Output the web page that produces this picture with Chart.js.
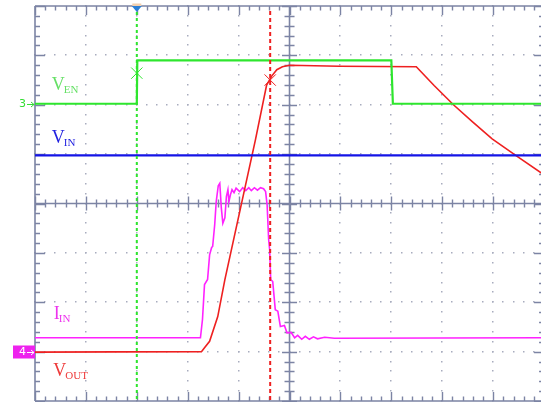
<!DOCTYPE html>
<html><head><meta charset="utf-8">
<script src="https://cdn.jsdelivr.net/npm/chart.js@4/dist/chart.umd.min.js"></script>
<style>
html,body{margin:0;padding:0;overflow:hidden;background:#fff;width:541px;height:402px}
#wrap{position:relative;width:541px;height:402px;overflow:hidden}
canvas{display:block}
</style>
</head><body><div id="wrap"><canvas id="c" width="541" height="402"></canvas></div>
<script>
// Time in screen divisions (0..10, right edge of the screen slightly cropped), signals in screen divisions (-4..4)
const visibleDivisions = 9.94;

const vEnTime  = [0, 2.0, 2.01, 7.0, 7.03, 10];
const vEnLevel = [2.02, 2.02, 2.9, 2.9, 2.02, 2.02];

const vInTime  = [0, 10];
const vInLevel = [0.976, 0.976];

const vOutTime  = [0, 3.27, 3.33, 3.43, 3.59, 3.73, 4.33, 4.55, 4.65, 4.75, 4.86, 5.0, 5.98, 7.49, 7.84, 8.22, 8.59, 8.98, 9.45, 10];
const vOutLevel = [-3.01, -3.0, -2.92, -2.79, -2.29, -1.54, 1.29, 2.40, 2.58, 2.71, 2.77, 2.80, 2.78, 2.77, 2.39, 2.0, 1.66, 1.31, 0.97, 0.58];

const iInTime  = [0, 3.25, 3.29, 3.33, 3.39, 3.43, 3.47, 3.49, 3.53, 3.56, 3.60, 3.63, 3.66, 3.69, 3.73, 3.76, 3.79, 3.81, 3.84, 3.87, 3.91, 3.95,
                  4.02, 4.08, 4.14, 4.20, 4.25, 4.31, 4.37, 4.43, 4.49, 4.53, 4.56, 4.59, 4.61, 4.63, 4.67, 4.72, 4.77, 4.82, 4.90, 4.95, 5.03,
                  5.10, 5.16, 5.24, 5.31, 5.39, 5.47, 5.55, 5.69, 5.88, 10];
const iInLevel = [-2.72, -2.72, -2.35, -1.64, -1.54, -1.04, -0.89, -0.87, -0.43, 0.04, 0.36, 0.41, -0.09, -0.40, -0.29, 0.14, 0.28, 0.04, 0.18, 0.28, 0.22, 0.31,
                  0.24, 0.32, 0.26, 0.32, 0.26, 0.32, 0.27, 0.32, 0.30, 0.24, -0.03, -0.73, -0.94, -1.54, -1.58, -2.15, -2.18, -2.49, -2.47, -2.62, -2.61,
                  -2.72, -2.67, -2.75, -2.69, -2.75, -2.70, -2.74, -2.71, -2.73, -2.72];

const cursorTime  = [2.0, 4.62];
const cursorMarkLevel = [2.64, 2.50];
const triggerTime = 2.0;

const traceLabels = [
  {main: 'V', sub: 'EN',  x: 0.33, y: 2.30,  color: '#66e066'},
  {main: 'V', sub: 'IN',  x: 0.33, y: 1.22,  color: '#2323e0'},
  {main: 'I', sub: 'IN',  x: 0.37, y: -2.34, color: '#ee33ee'},
  {main: 'V', sub: 'OUT', x: 0.36, y: -3.50, color: '#ee3a3a'}
];
const channelMarks = [
  {label: '3', level: vEnLevel[0], color: '#33dd33', boxed: false},
  {label: '4', level: vOutLevel[0], color: '#ee22ee', boxed: true}
];

const GREEN = '#2ee62e', BLUE = '#1414e6', RED = '#ee2020', MAG = '#ff22ff';
const AXIS = '#7c84a4', DOT = '#a8acbe';

function pts(t, v){ return t.map((x,i)=>({x, y: v[i]})); }

const scopeGrid = {
  id: 'scopeGrid',
  beforeDatasetsDraw(chart){
    const {ctx, chartArea: a, scales: {x, y}} = chart;
    const L = x.getPixelForValue(0), R = x.getPixelForValue(10);
    ctx.save();
    ctx.fillStyle = DOT;
    for (let i = 1; i < 10; i++) {
      if (i === 5) continue;
      const px = Math.round(x.getPixelForValue(i));
      for (let k = 0; k <= 40; k++) {
        const py = Math.round(y.getPixelForValue(-4 + k * 0.2));
        ctx.fillRect(px - 1, py - 1, 1.5, 1.5);
      }
    }
    for (let j = -3; j <= 3; j++) {
      if (j === 0) continue;
      const py = Math.round(y.getPixelForValue(j));
      for (let k = 0; k <= 50; k++) {
        const px = Math.round(x.getPixelForValue(k * 0.2));
        ctx.fillRect(px - 1, py - 1, 1.5, 1.5);
      }
    }
    ctx.strokeStyle = AXIS;
    ctx.lineWidth = 1.6;
    const cx = x.getPixelForValue(5), cy = y.getPixelForValue(0);
    ctx.beginPath();
    ctx.moveTo(L, a.top); ctx.lineTo(R, a.top);
    ctx.moveTo(L, a.bottom); ctx.lineTo(R, a.bottom);
    ctx.moveTo(L, a.top); ctx.lineTo(L, a.bottom);
    ctx.moveTo(R, a.top); ctx.lineTo(R, a.bottom);
    ctx.moveTo(L, cy); ctx.lineTo(R, cy);
    ctx.moveTo(cx, a.top); ctx.lineTo(cx, a.bottom);
    ctx.stroke();
    ctx.lineWidth = 1.4;
    ctx.beginPath();
    for (let k = 0; k <= 50; k++) {
      const major = k % 5 === 0;
      const px = Math.round(x.getPixelForValue(k * 0.2)) + 0.5;
      const t = major ? 9 : 4.5, c = major ? 7 : 4;
      ctx.moveTo(px, a.top); ctx.lineTo(px, a.top + t);
      ctx.moveTo(px, a.bottom); ctx.lineTo(px, a.bottom - t);
      ctx.moveTo(px, cy - c); ctx.lineTo(px, cy + c);
    }
    for (let k = 0; k <= 40; k++) {
      const major = k % 5 === 0;
      const py = Math.round(y.getPixelForValue(-4 + k * 0.2)) + 0.5;
      const t = major ? 10 : 5, c = major ? 7.5 : 5;
      ctx.moveTo(L, py); ctx.lineTo(L + t, py);
      ctx.moveTo(R, py); ctx.lineTo(R - t, py);
      ctx.moveTo(cx - c, py); ctx.lineTo(cx + c, py);
    }
    ctx.stroke();
    ctx.restore();
  },
  afterDatasetsDraw(chart){
    const {ctx, chartArea: a, scales: {x, y}} = chart;
    ctx.save();
    // trigger marker
    const tx = x.getPixelForValue(triggerTime);
    ctx.fillStyle = '#f2cfae';
    ctx.fillRect(tx - 4.5, a.top - 2.5, 9, 2.5);
    ctx.fillStyle = '#2a7fd6';
    ctx.beginPath();
    ctx.moveTo(tx - 5, a.top); ctx.lineTo(tx + 5, a.top); ctx.lineTo(tx, a.top + 6);
    ctx.closePath(); ctx.fill();
    // trace labels
    ctx.textBaseline = 'alphabetic';
    traceLabels.forEach(l => {
      const px = x.getPixelForValue(l.x), py = y.getPixelForValue(l.y);
      ctx.fillStyle = l.color;
      ctx.font = '18px "Liberation Serif", "Times New Roman", serif';
      ctx.fillText(l.main, px, py);
      const w = ctx.measureText(l.main).width;
      ctx.font = '11px "Liberation Serif", "Times New Roman", serif';
      ctx.fillText(l.sub, px + w - 1, py + 3);
    });
    // channel ground marks
    channelMarks.forEach(m => {
      const py = Math.round(y.getPixelForValue(m.level));
      ctx.font = '11px "DejaVu Sans", sans-serif';
      ctx.textBaseline = 'middle';
      let col = m.color;
      if (m.boxed) {
        ctx.fillStyle = m.color;
        ctx.fillRect(a.left - 22, py - 6.5, 22, 13);
        col = '#ffffff';
      }
      ctx.fillStyle = col;
      ctx.textAlign = 'left';
      ctx.fillText(m.label, a.left - 16, py + 0.5);
      ctx.strokeStyle = col; ctx.lineWidth = 1;
      ctx.beginPath();
      ctx.moveTo(a.left - 8, py + 0.5); ctx.lineTo(a.left - 1, py + 0.5);
      ctx.moveTo(a.left - 4, py - 2); ctx.lineTo(a.left - 1, py + 0.5); ctx.lineTo(a.left - 4, py + 3);
      ctx.stroke();
    });
    ctx.restore();
  }
};

new Chart(document.getElementById('c'), {
  type: 'line',
  data: {
    datasets: [
      {label: 'cursor1', data: [{x: cursorTime[0], y: 4}, {x: cursorTime[0], y: -4}], borderColor: GREEN, borderWidth: 2, borderDash: [3, 3], pointRadius: 0},
      {label: 'cursor2', data: [{x: cursorTime[1], y: 3.9}, {x: cursorTime[1], y: -4}], borderColor: RED, borderWidth: 2, borderDash: [4, 3], pointRadius: 0},
      {label: 'marks1', data: [{x: cursorTime[0], y: cursorMarkLevel[0]}], showLine: false, pointStyle: 'crossRot', pointRadius: 8, borderColor: GREEN, borderWidth: 1},
      {label: 'marks2', data: [{x: cursorTime[1], y: cursorMarkLevel[1]}], showLine: false, pointStyle: 'crossRot', pointRadius: 8, borderColor: RED, borderWidth: 1},
      {label: 'VEN', data: pts(vEnTime, vEnLevel), borderColor: GREEN, borderWidth: 2.2, pointRadius: 0},
      {label: 'VIN', data: pts(vInTime, vInLevel), borderColor: BLUE, borderWidth: 2.2, pointRadius: 0},
      {label: 'VOUT', data: pts(vOutTime, vOutLevel), borderColor: RED, borderWidth: 1.6, pointRadius: 0},
      {label: 'IIN', data: pts(iInTime, iInLevel), borderColor: MAG, borderWidth: 1.6, pointRadius: 0}
    ]
  },
  options: {
    responsive: false,
    animation: false,
    devicePixelRatio: 1,
    layout: {autoPadding: false, padding: {left: 35, top: 6, right: 0, bottom: 1}},
    elements: {line: {tension: 0}},
    scales: {
      x: {type: 'linear', min: 0, max: visibleDivisions, display: false},
      y: {type: 'linear', min: -4, max: 4, display: false}
    },
    plugins: {legend: {display: false}, tooltip: {enabled: false}}
  },
  plugins: [scopeGrid]
});
</script>
</body></html>
